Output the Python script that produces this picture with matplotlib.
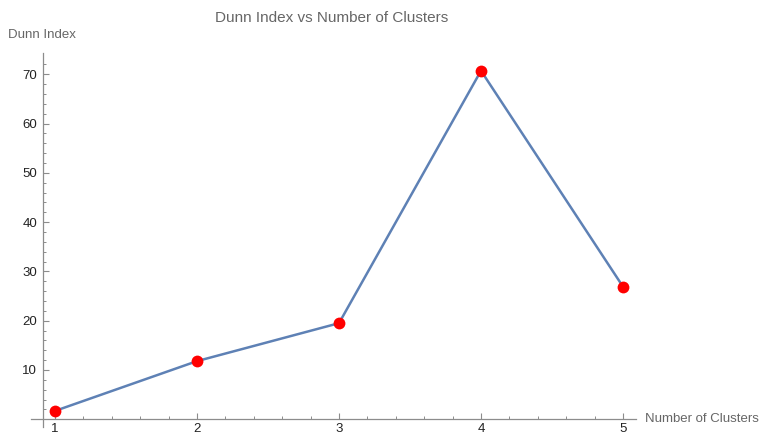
import matplotlib
matplotlib.use("Agg")
import matplotlib.pyplot as plt
import numpy as np

plt.rcParams["font.family"] = ["Liberation Sans", "DejaVu Sans"]

clusters = [1, 2, 3, 4, 5]
dunn = [1.7, 11.8, 19.5, 70.7, 26.9]
xticks = [1, 2, 3, 4, 5]
yticks = [10, 20, 30, 40, 50, 60, 70]

W, H = 760, 434
fig = plt.figure(figsize=(W/100, H/100), dpi=100)

# pixel geometry
x_left_px, x_right_px = 31, 636
y_bot_px, y_top_px = 427, 53
ax = fig.add_axes([x_left_px/W, 1 - y_bot_px/H, (x_right_px - x_left_px)/W, (y_bot_px - y_top_px)/H])
px_per_x = 142.0
xmin = 1 - (55 - x_left_px)/px_per_x
xmax = 5 + (x_right_px - 623)/px_per_x
px_per_y = 4.93
y0_px = 419.3
ymin = -(y_bot_px - y0_px)/px_per_y
ymax = (y0_px - y_top_px)/px_per_y
ax.set_xlim(xmin, xmax)
ax.set_ylim(ymin, ymax)

axcol = "#8c8c8c"
ax.spines["top"].set_visible(False)
ax.spines["right"].set_visible(False)
ax.spines["bottom"].set_position(("data", 0))
ax.spines["left"].set_position(("data", 1 - (55 - 42.7)/px_per_x))
for s in ("bottom", "left"):
    ax.spines[s].set_color(axcol)
    ax.spines[s].set_linewidth(0.9)

ax.plot(clusters, dunn, color="#5E81B5", lw=1.8, zorder=2, clip_on=False)
ax.plot(clusters, dunn, "o", color="#FF0000", ms=8.5, zorder=3, clip_on=False, mec="none")

ax.set_xticks(xticks)
ax.set_xticks(np.arange(1.2, 5.0, 0.2), minor=True)
ax.set_yticks(yticks)
ax.set_yticks([v for v in range(2, 74, 2) if v % 10 != 0], minor=True)
ax.tick_params(which="both", direction="in", color=axcol, labelcolor="#222222", labelsize=9.5)
ax.tick_params(which="major", length=4.5, width=0.8, pad=4)
ax.tick_params(axis="x", which="major", pad=3)
ax.tick_params(which="minor", length=2.5, width=0.7)

fig.text(332/W, 1 - 18/H, "Dunn Index vs Number of Clusters", ha="center", va="center",
         color="#666666", fontsize=11)
fig.text(8/W, 1 - 35/H, "Dunn Index", ha="left", va="center", color="#666666", fontsize=9.5)
fig.text(645/W, 1 - 419/H, "Number of Clusters", ha="left", va="center", color="#666666", fontsize=9.5)

fig.savefig("out.png", dpi=100)
